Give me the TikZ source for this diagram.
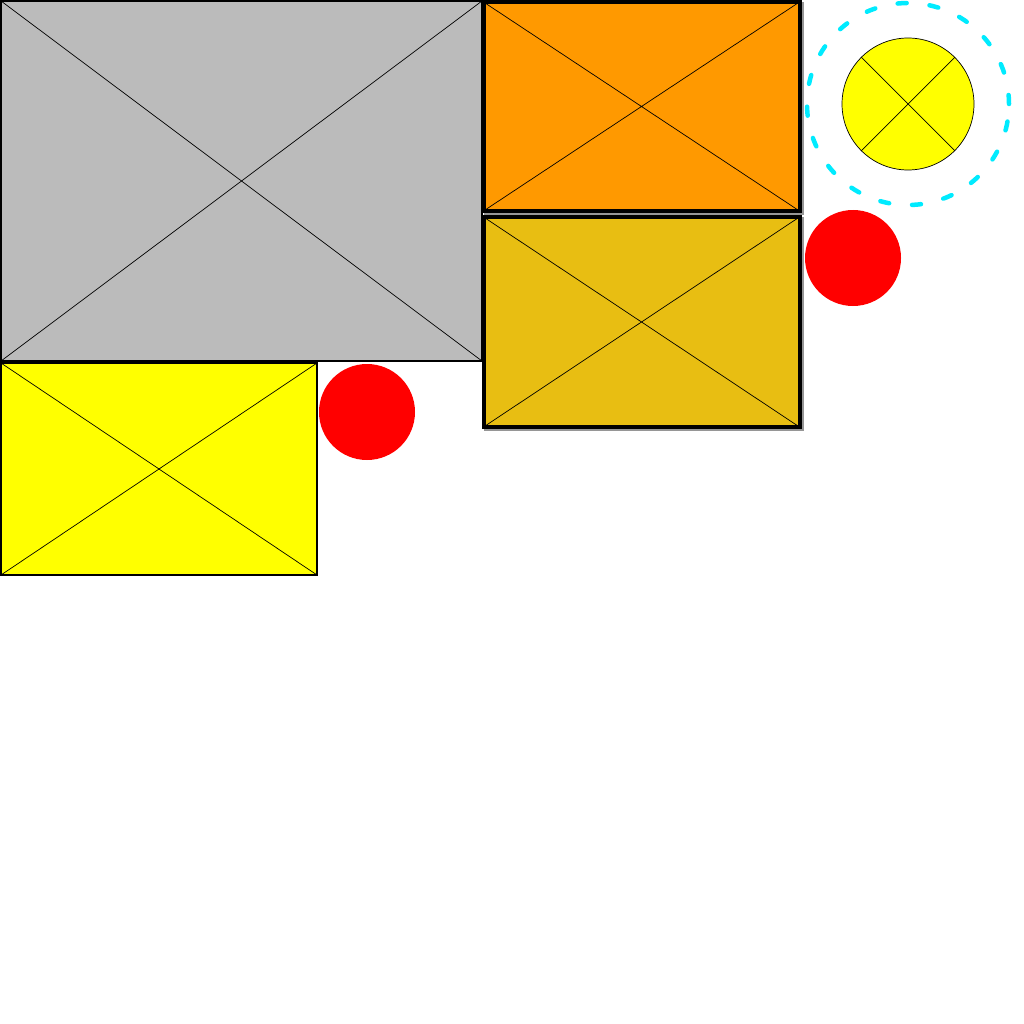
\documentclass[tikz,border=0pt]{standalone}
\definecolor{myyellow}{RGB}{255,255,0}
\definecolor{mygray}{RGB}{187,187,187}
\definecolor{myorange}{RGB}{255,153,0}
\definecolor{mygold}{RGB}{232,190,18}
\definecolor{mycyan}{RGB}{0,235,255}
\definecolor{myred}{RGB}{255,0,0}
\definecolor{myshadow}{RGB}{150,150,150}
\begin{document}
\begin{tikzpicture}[x=1pt,y=-1pt,
  box/.style={draw=black,line width=1.6pt,inner sep=0pt,outer sep=0pt,anchor=north west},
  thickbox/.style={draw=black,line width=4pt,inner sep=0pt,outer sep=0pt,anchor=north west},
  shadowbox/.style={fill=myshadow,inner sep=0pt,outer sep=0pt,anchor=north west},
  diag/.style={draw=black,line width=0.7pt},
  dot/.style={circle,fill=myred,inner sep=0pt,minimum size=96pt}]
\useasboundingbox (0,0) rectangle (1024,1024);
% gray
\node[box,fill=mygray,minimum width=481pt,minimum height=360pt] (g) at (1,1) {};
\draw[diag] (g.north west) -- (g.south east) (g.north east) -- (g.south west);
% yellow rect
\node[box,fill=myyellow,minimum width=316pt,minimum height=212pt] (y) at (1,363) {};
\draw[diag] (y.north west) -- (y.south east) (y.north east) -- (y.south west);
% shadows
\node[shadowbox,minimum width=320pt,minimum height=213pt] (os) at (483.5,2) {};
\node[shadowbox,minimum width=320pt,minimum height=214pt] (gs) at (483.5,217) {};
% orange
\node[thickbox,fill=myorange,minimum width=316pt,minimum height=209pt] (o) at (483.5,2) {};
\draw[diag] (o.north west) -- (o.south east) (o.north east) -- (o.south west);
% goldenrod
\node[thickbox,fill=mygold,minimum width=316pt,minimum height=210pt] (d) at (483.5,217) {};
\draw[diag] (d.north west) -- (d.south east) (d.north east) -- (d.south west);
% red dots
\node[dot] (r1) at (367,412) {};
\node[dot] (r2) at (853,258) {};
% yellow circle
\node[circle,draw=black,line width=0.7pt,fill=myyellow,inner sep=0pt,minimum size=132pt] (c) at (908,104) {};
\draw[diag] (c.north west) -- (c.south east) (c.north east) -- (c.south west);
\node[circle,draw=mycyan,line width=4.5pt,line cap=round,dash pattern=on 9pt off 23pt,inner sep=0pt,minimum size=202pt] (cc) at (908,104) {};
\end{tikzpicture}
\end{document}
